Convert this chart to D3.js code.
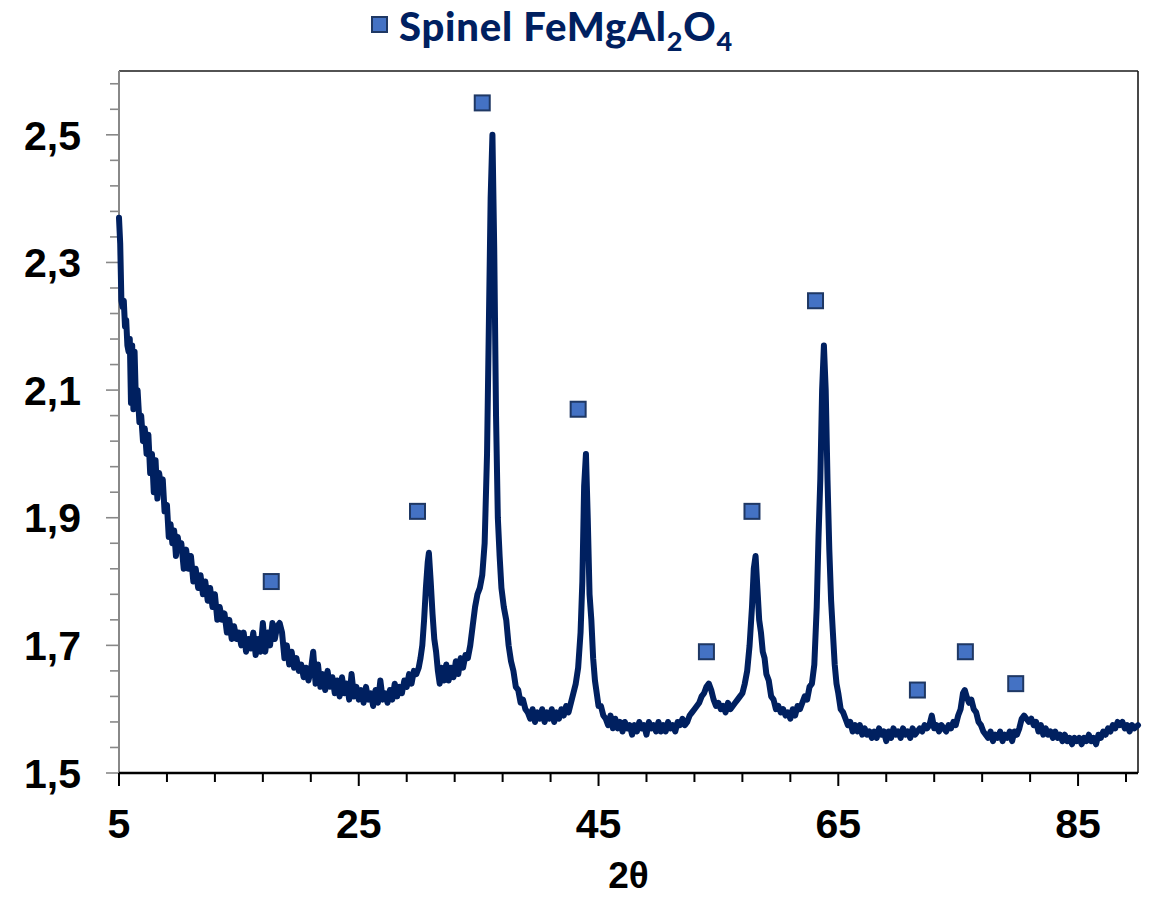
<!DOCTYPE html>
<html>
<head>
<meta charset="utf-8">
<script src="https://cdn.jsdelivr.net/npm/d3@7"></script>
<style>
  body { margin: 0; background: #fff; }
  svg { display: block; }
</style>
</head>
<body>
<div id="chart"></div>
<script>
// XRD scan: [2theta, intensity]
var scan = [
  [5.00,2.37],[5.10,2.33],[5.20,2.24],[5.30,2.23],[5.40,2.24],[5.50,2.20],[5.60,2.21],[5.70,2.17],
  [5.80,2.16],[5.90,2.18],[6.00,2.08],[6.10,2.17],[6.20,2.07],[6.30,2.16],[6.40,2.09],[6.55,2.10],
  [6.70,2.05],[6.85,2.06],[7.00,2.02],[7.15,2.04],[7.30,2.00],[7.45,2.03],[7.60,1.97],[7.75,2.00],
  [7.90,1.94],[8.05,1.99],[8.20,1.93],[8.35,1.97],[8.50,1.95],[8.65,1.96],[8.80,1.91],[9.00,1.92],
  [9.15,1.87],[9.30,1.89],[9.45,1.86],[9.60,1.88],[9.75,1.84],[9.90,1.87],[10.05,1.85],[10.20,1.86],
  [10.40,1.82],[10.60,1.85],[10.80,1.82],[11.00,1.84],[11.20,1.80],[11.40,1.82],[11.60,1.79],[11.80,1.81],
  [12.00,1.78],[12.20,1.80],[12.40,1.77],[12.60,1.79],[12.80,1.76],[13.00,1.78],[13.20,1.74],[13.40,1.76],
  [13.60,1.74],[13.80,1.75],[14.00,1.72],[14.20,1.74],[14.40,1.71],[14.60,1.73],[14.80,1.71],[15.00,1.72],
  [15.20,1.70],[15.40,1.72],[15.60,1.69],[15.80,1.71],[16.00,1.695],[16.20,1.72],[16.40,1.685],[16.60,1.71],
  [16.80,1.69],[17.00,1.735],[17.20,1.69],[17.40,1.72],[17.60,1.70],[17.80,1.735],[18.00,1.71],[18.20,1.73],
  [18.40,1.735],[18.60,1.72],[18.80,1.68],[19.00,1.70],[19.20,1.67],[19.40,1.69],[19.60,1.665],[19.80,1.68],
  [20.00,1.66],[20.20,1.67],[20.40,1.65],[20.60,1.665],[20.80,1.645],[21.00,1.66],[21.20,1.69],[21.40,1.64],
  [21.60,1.67],[21.80,1.635],[22.00,1.655],[22.20,1.63],[22.40,1.66],[22.60,1.635],[22.80,1.65],[23.00,1.625],
  [23.20,1.645],[23.40,1.62],[23.60,1.65],[23.80,1.625],[24.00,1.64],[24.20,1.615],[24.40,1.655],[24.60,1.62],
  [24.80,1.635],[25.00,1.615],[25.20,1.63],[25.40,1.61],[25.60,1.635],[25.80,1.615],[26.00,1.625],[26.20,1.605],
  [26.40,1.63],[26.60,1.61],[26.80,1.645],[27.00,1.615],[27.20,1.625],[27.40,1.61],[27.60,1.63],[27.80,1.615],
  [28.00,1.64],[28.20,1.62],[28.40,1.635],[28.60,1.625],[28.80,1.645],[29.00,1.635],[29.20,1.655],[29.40,1.64],
  [29.60,1.66],[29.80,1.655],[30.00,1.665],[30.15,1.68],[30.30,1.70],[30.45,1.74],[30.60,1.79],[30.75,1.83],
  [30.85,1.845],[31.00,1.80],[31.15,1.75],[31.30,1.71],[31.45,1.69],[31.60,1.66],[31.75,1.64],[31.90,1.665],
  [32.10,1.645],[32.30,1.67],[32.50,1.645],[32.70,1.665],[32.90,1.65],[33.10,1.675],[33.30,1.655],[33.50,1.68],
  [33.70,1.665],[33.90,1.685],[34.10,1.68],[34.30,1.70],[34.50,1.73],[34.70,1.76],[34.90,1.78],[35.10,1.79],
  [35.30,1.81],[35.50,1.86],[35.70,2.00],[35.85,2.20],[36.00,2.40],[36.15,2.50],[36.30,2.32],[36.45,2.06],
  [36.60,1.90],[36.75,1.84],[36.90,1.79],[37.10,1.76],[37.30,1.74],[37.50,1.70],[37.70,1.675],[37.90,1.66],
  [38.10,1.635],[38.30,1.63],[38.50,1.61],[38.70,1.615],[38.90,1.60],[39.10,1.595],[39.30,1.585],[39.50,1.60],
  [39.70,1.58],[39.90,1.595],[40.10,1.585],[40.30,1.60],[40.50,1.58],[40.70,1.595],[40.90,1.585],[41.10,1.60],
  [41.30,1.58],[41.50,1.595],[41.70,1.585],[41.90,1.60],[42.10,1.59],[42.30,1.605],[42.50,1.595],[42.70,1.61],
  [42.90,1.625],[43.10,1.64],[43.30,1.665],[43.50,1.72],[43.65,1.80],[43.80,1.95],[43.95,2.00],[44.10,1.90],
  [44.25,1.78],[44.40,1.74],[44.55,1.68],[44.70,1.645],[44.85,1.625],[45.00,1.605],[45.20,1.605],[45.40,1.59],
  [45.60,1.585],[45.80,1.575],[46.00,1.59],[46.20,1.57],[46.40,1.585],[46.60,1.57],[46.80,1.58],[47.00,1.565],
  [47.20,1.58],[47.40,1.57],[47.60,1.575],[47.80,1.56],[48.00,1.575],[48.20,1.565],[48.40,1.58],[48.60,1.57],
  [48.80,1.575],[49.00,1.56],[49.20,1.58],[49.40,1.57],[49.60,1.575],[49.80,1.565],[50.00,1.58],[50.20,1.565],
  [50.40,1.575],[50.60,1.565],[50.80,1.58],[51.00,1.57],[51.20,1.575],[51.40,1.565],[51.60,1.58],[51.80,1.575],
  [52.00,1.585],[52.20,1.575],[52.40,1.58],[52.60,1.59],[52.80,1.595],[53.00,1.60],[53.20,1.605],[53.40,1.61],
  [53.60,1.62],[53.80,1.625],[54.00,1.635],[54.20,1.64],[54.40,1.63],[54.60,1.615],[54.80,1.605],[55.00,1.61],
  [55.20,1.60],[55.40,1.605],[55.60,1.595],[55.80,1.61],[56.00,1.60],[56.20,1.605],[56.40,1.61],[56.60,1.615],
  [56.80,1.62],[57.00,1.625],[57.20,1.64],[57.40,1.66],[57.60,1.70],[57.80,1.76],[57.95,1.82],[58.10,1.84],
  [58.25,1.79],[58.40,1.74],[58.55,1.72],[58.70,1.69],[58.85,1.68],[59.00,1.655],[59.20,1.645],[59.40,1.62],
  [59.60,1.615],[59.80,1.60],[60.00,1.605],[60.20,1.595],[60.40,1.60],[60.60,1.59],[60.80,1.595],[61.00,1.585],
  [61.20,1.60],[61.40,1.59],[61.60,1.605],[61.80,1.60],[62.00,1.61],[62.20,1.62],[62.40,1.615],[62.60,1.635],
  [62.80,1.64],[63.00,1.67],[63.20,1.76],[63.35,1.87],[63.50,1.96],[63.65,2.10],[63.80,2.17],[63.95,2.10],
  [64.10,1.96],[64.25,1.85],[64.40,1.77],[64.55,1.72],[64.70,1.67],[64.85,1.64],[65.00,1.625],[65.20,1.60],
  [65.40,1.595],[65.60,1.585],[65.80,1.575],[66.00,1.58],[66.20,1.565],[66.40,1.575],[66.60,1.565],[66.80,1.575],
  [67.00,1.56],[67.20,1.57],[67.40,1.56],[67.60,1.565],[67.80,1.555],[68.00,1.565],[68.20,1.555],[68.40,1.57],
  [68.60,1.56],[68.80,1.565],[69.00,1.55],[69.20,1.565],[69.40,1.555],[69.60,1.57],[69.80,1.56],[70.00,1.565],
  [70.20,1.555],[70.40,1.57],[70.60,1.56],[70.80,1.565],[71.00,1.555],[71.20,1.57],[71.40,1.56],[71.60,1.565],
  [71.80,1.57],[72.00,1.565],[72.20,1.575],[72.40,1.57],[72.60,1.575],[72.80,1.59],[73.00,1.57],[73.20,1.575],
  [73.40,1.565],[73.60,1.575],[73.80,1.57],[74.00,1.565],[74.20,1.575],[74.40,1.57],[74.60,1.58],[74.80,1.575],
  [75.00,1.59],[75.20,1.60],[75.40,1.625],[75.55,1.63],[75.70,1.62],[75.90,1.61],[76.10,1.615],[76.30,1.60],
  [76.50,1.595],[76.70,1.58],[76.90,1.575],[77.10,1.565],[77.30,1.56],[77.50,1.555],[77.70,1.565],[77.90,1.55],
  [78.10,1.56],[78.30,1.555],[78.50,1.565],[78.70,1.55],[78.90,1.56],[79.10,1.555],[79.30,1.565],[79.50,1.55],
  [79.70,1.565],[79.90,1.56],[80.10,1.57],[80.30,1.585],[80.50,1.59],[80.70,1.585],[80.90,1.58],[81.10,1.585],
  [81.30,1.575],[81.50,1.58],[81.70,1.565],[81.90,1.575],[82.10,1.56],[82.30,1.57],[82.50,1.56],[82.70,1.565],
  [82.90,1.555],[83.10,1.565],[83.30,1.555],[83.50,1.56],[83.70,1.55],[83.90,1.56],[84.10,1.55],[84.30,1.555],
  [84.50,1.545],[84.70,1.555],[84.90,1.55],[85.10,1.555],[85.30,1.545],[85.50,1.555],[85.70,1.55],[85.90,1.56],
  [86.10,1.55],[86.30,1.555],[86.50,1.545],[86.70,1.56],[86.90,1.555],[87.10,1.565],[87.30,1.56],[87.50,1.57],
  [87.70,1.565],[87.90,1.575],[88.10,1.57],[88.30,1.58],[88.50,1.575],[88.70,1.58],[88.90,1.57],[89.10,1.575],
  [89.30,1.565],[89.50,1.575],[89.70,1.57],[90.00,1.575]
];

// spinel reflection markers
var markerTheta = [17.7, 29.9, 35.3, 43.3, 54.0, 57.8, 63.1, 71.6, 75.6, 79.8];
var markerLevel = [1.80, 1.91, 2.55, 2.07, 1.69, 1.91, 2.24, 1.63, 1.69, 1.64];

var xLabels = [5, 25, 45, 65, 85];
var yLabels = [1.5, 1.7, 1.9, 2.1, 2.3, 2.5];

var margin = { top: 71, right: 18, bottom: 126, left: 119 },
  width = 1156 - margin.left - margin.right,
  height = 899 - margin.top - margin.bottom;

var svg = d3
  .select("#chart")
  .append("svg")
  .attr("width", 1156)
  .attr("height", 899);

var g = svg
  .append("g")
  .attr("transform", "translate(" + margin.left + "," + margin.top + ")");

var x = d3.scaleLinear().domain([5, 90]).range([0, width]);
var y = d3.scaleLinear().domain([1.5, 2.6]).range([height, 0]);

var fmt = function (d) {
  return d3.format(".1f")(d).replace(".", ",");
};

// frame: top and right borders
g.append("line")
  .attr("x1", 0).attr("x2", width)
  .attr("y1", 0).attr("y2", 0)
  .attr("stroke", "#1a1a1a").attr("stroke-width", 1.6);
g.append("line")
  .attr("x1", width).attr("x2", width)
  .attr("y1", 0).attr("y2", height)
  .attr("stroke", "#1a1a1a").attr("stroke-width", 1.6);

// Y axis: minor ticks every 0.04, major labelled every 0.2
var yMinor = d3.range(0, 28).map(function (i) { return 1.5 + i * 0.04; });
var yAxisG = g.append("g");
yAxisG.selectAll("line.minor")
  .data(yMinor)
  .enter()
  .append("line")
  .attr("x1", function (d, i) { return i % 5 === 0 ? -13 : -9; })
  .attr("x2", 0)
  .attr("y1", function (d) { return y(d); })
  .attr("y2", function (d) { return y(d); })
  .attr("stroke", "#888")
  .attr("stroke-width", 1.6);
yAxisG.append("line")
  .attr("x1", 0).attr("x2", 0)
  .attr("y1", 0).attr("y2", height)
  .attr("stroke", "#888")
  .attr("stroke-width", 2);
yAxisG.selectAll("text")
  .data(yLabels)
  .enter()
  .append("text")
  .attr("x", -38)
  .attr("y", function (d) { return y(d); })
  .attr("dy", "0.36em")
  .attr("text-anchor", "end")
  .style("font-family", "Liberation Sans, Arial, sans-serif")
  .style("font-weight", "bold")
  .style("font-size", "41px")
  .attr("fill", "#000")
  .text(fmt);

// X axis: minor ticks every 4, major every 20
var xMinor = d3.range(0, 22).map(function (i) { return 5 + i * 4; });
var xAxisG = g.append("g").attr("transform", "translate(0," + height + ")");
xAxisG.selectAll("line")
  .data(xMinor)
  .enter()
  .append("line")
  .attr("x1", function (d) { return x(d); })
  .attr("x2", function (d) { return x(d); })
  .attr("y1", 0)
  .attr("y2", function (d, i) { return i % 5 === 0 ? 13 : 9; })
  .attr("stroke", "#000")
  .attr("stroke-width", 2);
xAxisG.append("line")
  .attr("x1", 0).attr("x2", width)
  .attr("y1", 0).attr("y2", 0)
  .attr("stroke", "#000")
  .attr("stroke-width", 2.4);
xAxisG.selectAll("text")
  .data(xLabels)
  .enter()
  .append("text")
  .attr("x", function (d) { return x(d); })
  .attr("y", 65)
  .attr("text-anchor", "middle")
  .style("font-family", "Liberation Sans, Arial, sans-serif")
  .style("font-weight", "bold")
  .style("font-size", "41px")
  .attr("fill", "#000")
  .text(function (d) { return d; });

// axis title
g.append("text")
  .attr("x", width / 2)
  .attr("y", height + 115)
  .attr("text-anchor", "middle")
  .style("font-family", "Liberation Sans, Arial, sans-serif")
  .style("font-weight", "bold")
  .style("font-size", "37px")
  .attr("fill", "#000")
  .text("2θ");

// the scan
var line = d3.line()
  .x(function (d) { return x(d[0]); })
  .y(function (d) { return y(d[1]); });

g.append("path")
  .datum(scan)
  .attr("d", line)
  .attr("fill", "none")
  .attr("stroke", "#002060")
  .attr("stroke-width", 6)
  .attr("stroke-linejoin", "round")
  .attr("stroke-linecap", "round");

// markers
var markers = markerTheta.map(function (t, i) { return [t, markerLevel[i]]; });
g.selectAll("rect.mark")
  .data(markers)
  .enter()
  .append("rect")
  .attr("class", "mark")
  .attr("x", function (d) { return x(d[0]) - 7.5; })
  .attr("y", function (d) { return y(d[1]) - 7.5; })
  .attr("width", 15)
  .attr("height", 15)
  .attr("fill", "#4472C4")
  .attr("stroke", "#1F3864")
  .attr("stroke-width", 2);

// legend
svg.append("rect")
  .attr("x", 372).attr("y", 17)
  .attr("width", 15).attr("height", 15)
  .attr("fill", "#4472C4")
  .attr("stroke", "#1F3864")
  .attr("stroke-width", 2);

var leg = svg.append("text")
  .attr("x", 399)
  .attr("y", 41)
  .style("font-family", "Lato, sans-serif")
  .style("font-weight", "900")
  .style("font-size", "40px")
  .style("letter-spacing", "0.8px")
  .attr("fill", "#002060");
leg.append("tspan").text("Spinel FeMgAl");
leg.append("tspan").attr("dy", 10).style("font-size", "27px").text("2");
leg.append("tspan").attr("dy", -10).text("O");
leg.append("tspan").attr("dy", 10).style("font-size", "27px").text("4");
</script>
</body>
</html>
